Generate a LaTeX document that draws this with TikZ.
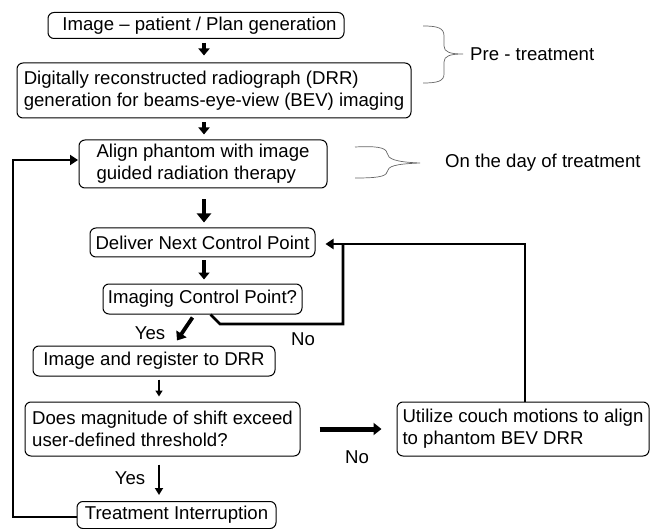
\documentclass[tikz,border=0pt]{standalone}
\usepackage{fontspec}
\setmainfont{Liberation Sans}
\usetikzlibrary{arrows.meta,calc}
\begin{document}
\begin{tikzpicture}[x=1pt,y=-1pt,
  box/.style={draw, rounded corners=6pt, line width=1pt, inner sep=0pt,
    font=\fontsize{18.6}{22}\selectfont, align=left},
  lbl/.style={font=\fontsize{18.6}{22}\selectfont, inner sep=0pt},
  fat/.style={line width=3.6pt, -{Triangle[length=7pt,width=11pt]}},
  loop/.style={line width=2.8pt, -{Triangle[length=8pt,width=10pt]}},
  brace/.style={draw=black!60, line width=0.7pt}]
\useasboundingbox (0,0) rectangle (650,529);

\node[box, minimum width=296pt, minimum height=26pt] (b1) at (196,25.5) {\hspace*{7pt}Image -- patient / Plan generation};
\node[box, minimum width=394pt, minimum height=55pt] (b2) at (214,90.5)
  {Digitally reconstructed radiograph (DRR)\\generation for beams-eye-view (BEV) imaging};
\node[box, minimum width=248pt, minimum height=48pt] (b3) at (203,164)
  {Align phantom with image\\guided radiation therapy};
\node[box, minimum width=225pt, minimum height=29pt] (b4) at (202.5,242.5) {Deliver Next Control Point};
\node[box, minimum width=199pt, minimum height=30pt] (b5) at (202.5,299) {Imaging Control Point?};
\node[box, minimum width=242pt, minimum height=30pt] (b6) at (154,361) {Image and register to DRR};
\node[box, minimum width=275pt, minimum height=54pt] (b7) at (162.5,429)
  {Does magnitude of shift exceed\\user-defined threshold?};
\node[box, minimum width=252pt, minimum height=54pt] (b8) at (523,429)
  {Utilize couch motions to align\\to phantom BEV DRR};
\node[box, minimum width=199pt, minimum height=27pt] (b9) at (176.5,515) {Treatment Interruption};

% labels
\node[lbl, anchor=west] (pre) at (470,54) {Pre - treatment};
\node[lbl, anchor=west] (day) at (445,163) {On the day of treatment};
\node[lbl] (yes1) at (150,333) {Yes};
\node[lbl] (no1) at (303,339) {No};
\node[lbl] (no2) at (357,457) {No};
\node[lbl] (yes2) at (130,478) {Yes};

% coordinates
\coordinate (ax) at (204,0);
\coordinate (sx) at (159,0);
\coordinate (c5a) at (220,324);
\coordinate (cx) at (343,324);
\coordinate (cy) at (343,244);
\coordinate (vx) at (525,0);
\coordinate (l1) at (13,517);
\coordinate (l2) at (13,160);
\coordinate (b3in) at (78,160);

% arrows
\draw[fat] ($(ax |- b1.south)+(0,4)$) -- ($(ax |- b2.north)+(0,-7)$);
\draw[fat] ($(ax |- b2.south)+(0,4)$) -- ($(ax |- b3.north)+(0,-5)$);
\draw[line width=4.6pt, -{Triangle[length=9pt,width=14pt]}] ($(ax |- b3.south)+(0,11)$) -- ($(ax |- b4.north)+(0,-5)$);
\draw[fat] ($(ax |- b4.south)+(0,3)$) -- ($(ax |- b5.north)+(0,-4)$);
\draw[line width=3.8pt, -{Triangle[length=8pt,width=12pt]}] ($(b5.south)+(-10,3)$) -- ($(b6.north)+(23,-5)$);
\draw[line width=2pt, -{Triangle[length=6pt,width=7pt]}] ($(sx |- b6.south)+(0,3)$) -- ($(sx |- b7.north)+(0,-5)$);
\draw[line width=2.6pt, -{Triangle[length=7pt,width=8pt]}] ($(sx |- b7.south)+(0,8)$) -- ($(sx |- b9.north)+(0,-6)$);
\draw[line width=5pt, -{Triangle[length=8pt,width=12pt]}] ($(b7.east)+(19,0)$) -- ($(b8.west)+(-15,0)$);

% loops
\draw[line width=2.8pt, line join=miter] ($(b5.south)+(8,0)$) -- (c5a) -- (cx) -- (cy);
\draw[loop] (vx |- b8.north) |- ($(b4.east |- cy)+(10,0)$);
\draw[loop] (b9.west |- l1) -- (l1) -- (l2) -- (b3in);

% braces
\draw[brace] (423,26) .. controls (438,26) and (444,28) .. (444,36) -- (444,46)
  .. controls (444,52) and (450,54) .. (463,54)
  .. controls (450,54) and (444,56) .. (444,62) -- (444,74)
  .. controls (444,81) and (438,83) .. (423,83);
\draw[brace] (355,147) .. controls (375,146) and (386,147) .. (387,153)
  .. controls (388,159) and (395,162) .. (420,163)
  .. controls (395,164) and (388,166) .. (387,172)
  .. controls (386,177) and (375,178) .. (355,178);
\end{tikzpicture}
\end{document}
